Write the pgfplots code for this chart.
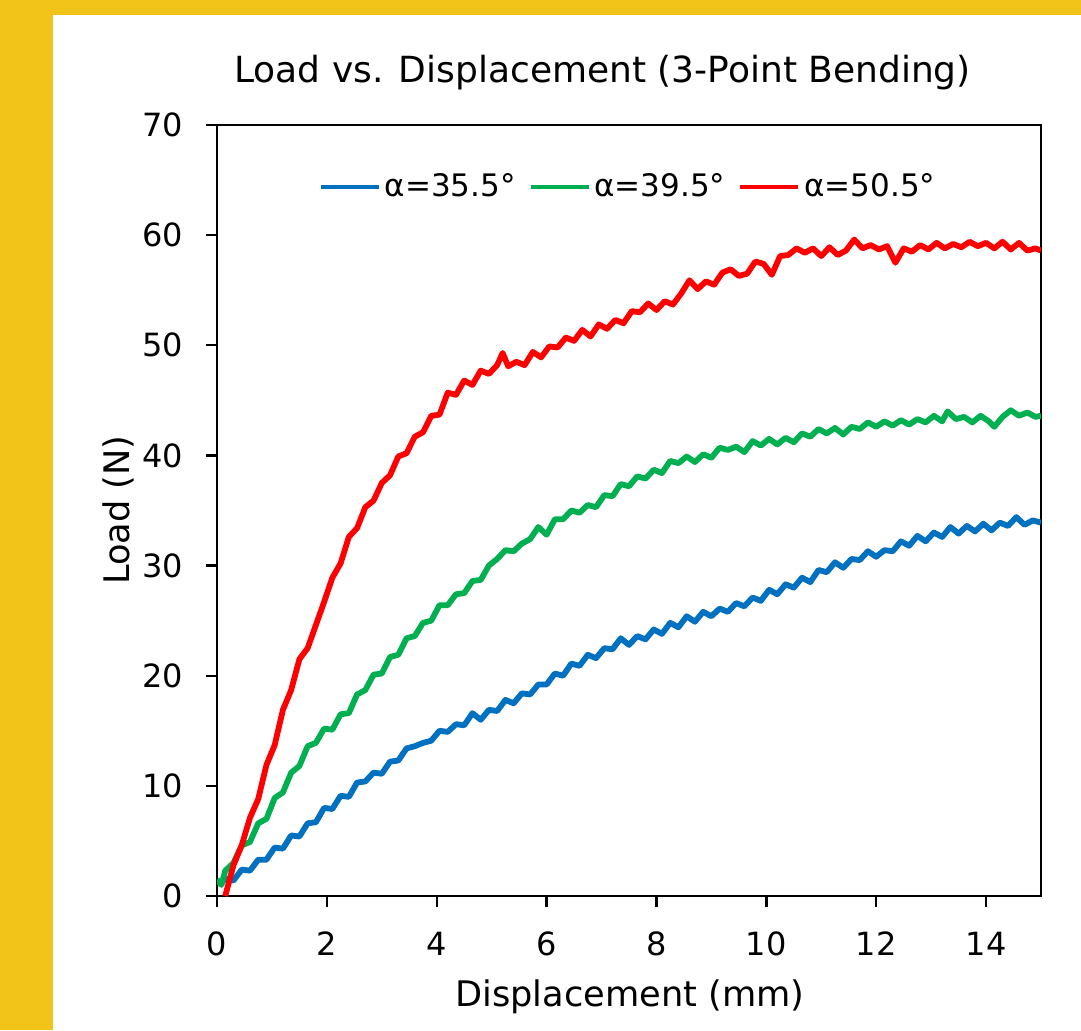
\documentclass[border=0pt]{standalone}
\usepackage{fontspec}
\setmainfont{DejaVu Sans}
\usepackage{pgfplots}
\pgfplotsset{compat=1.18}
\definecolor{cBlue}{RGB}{0,112,192}
\definecolor{cGreen}{RGB}{0,176,80}
\definecolor{cRed}{RGB}{255,0,0}
\definecolor{frameY}{RGB}{242,196,26}

\begin{document}
\begin{tikzpicture}
% page frame: yellow strip left and top, white panel
\path[use as bounding box] (0,0) rectangle (540.5pt,515pt);
\fill[white] (0,0) rectangle (540.5pt,515pt);
\fill[frameY] (0,0) rectangle (26.5pt,515pt);
\fill[frameY] (0,507.5pt) rectangle (540.5pt,515pt);

\begin{axis}[
  at={(108.5pt,67pt)}, anchor=south west,
  scale only axis, width=412pt, height=385.5pt,
  xmin=0, xmax=15, ymin=0, ymax=70,
  xtick={0,2,...,14}, ytick={0,10,...,70},
  xtick pos=bottom, ytick pos=left,
  tick align=outside, major tick length=5.5pt,
  axis line style={line width=1.2pt},
  every tick/.style={black, line width=1.2pt},
  /pgf/number format/assume math mode=true,
  tick label style={font=\fontsize{16}{19}\selectfont},
  yticklabel style={xshift=-8pt},
  xticklabel style={yshift=-9pt},
  legend style={draw=none, fill=none, at={(0.5,0.92)}, anchor=center,
                legend columns=3, font=\fontsize{15.5}{18}\selectfont,
                /tikz/every even column/.append style={column sep=4.5pt}},
  legend image code/.code={\draw[#1,line width=2pt] (0pt,0pt) -- (29pt,0pt);},
  clip=true,
]
\addplot[cBlue, line width=2.9pt, line join=round] coordinates {
(0.05,1.0) (0.15,1.6) (0.3,1.4) (0.45,2.4) (0.6,2.3) (0.75,3.3) (0.9,3.3)
(1.05,4.4) (1.2,4.3) (1.35,5.5) (1.5,5.4) (1.65,6.6) (1.8,6.7) (1.95,8.0)
(2.1,7.9) (2.25,9.1) (2.4,9.0) (2.55,10.3) (2.7,10.4) (2.85,11.2) (3.0,11.1)
(3.15,12.2) (3.3,12.3) (3.45,13.4) (3.6,13.6) (3.75,13.9) (3.9,14.1) (4.05,15.0)
(4.2,14.9) (4.35,15.6) (4.5,15.5) (4.65,16.6) (4.8,16.0) (4.95,16.9) (5.1,16.8)
(5.25,17.8) (5.4,17.5) (5.55,18.4) (5.7,18.3) (5.85,19.2) (6.0,19.2) (6.15,20.2)
(6.3,20.0) (6.45,21.1) (6.6,20.9) (6.75,21.9) (6.9,21.6) (7.05,22.5) (7.2,22.4)
(7.35,23.4) (7.5,22.8) (7.65,23.6) (7.8,23.3) (7.95,24.2) (8.1,23.8) (8.25,24.8)
(8.4,24.4) (8.55,25.4) (8.7,24.9) (8.85,25.8) (9.0,25.4) (9.15,26.1) (9.3,25.8)
(9.45,26.6) (9.6,26.3) (9.75,27.1) (9.9,26.8) (10.05,27.8) (10.2,27.4) (10.35,28.3)
(10.5,28.0) (10.65,28.9) (10.8,28.5) (10.95,29.6) (11.1,29.4) (11.25,30.3) (11.4,29.8)
(11.55,30.6) (11.7,30.5) (11.85,31.3) (12.0,30.8) (12.15,31.4) (12.3,31.3) (12.45,32.2)
(12.6,31.8) (12.75,32.7) (12.9,32.2) (13.05,33.0) (13.2,32.6) (13.35,33.5) (13.5,32.9)
(13.65,33.6) (13.8,33.1) (13.95,33.8) (14.1,33.2) (14.25,33.9) (14.4,33.6) (14.55,34.4)
(14.7,33.7) (14.85,34.1) (15.0,33.9)};
\addlegendentry{α=35.5°}
\addplot[cGreen, line width=2.9pt, line join=round] coordinates {
(0,1.5) (0.08,1.0) (0.15,2.3) (0.3,3.0) (0.45,4.6) (0.6,4.9) (0.75,6.6) (0.9,7.0)
(1.05,8.9) (1.2,9.4) (1.35,11.2) (1.5,11.8) (1.65,13.6) (1.8,13.9) (1.95,15.2)
(2.1,15.1) (2.25,16.5) (2.4,16.6) (2.55,18.3) (2.7,18.7) (2.85,20.1) (3.0,20.2)
(3.15,21.7) (3.3,21.9) (3.45,23.4) (3.6,23.6) (3.75,24.8) (3.9,25.0) (4.05,26.4)
(4.2,26.4) (4.35,27.4) (4.5,27.5) (4.65,28.6) (4.8,28.7) (4.95,30.0) (5.1,30.6)
(5.25,31.4) (5.4,31.3) (5.55,32.0) (5.7,32.4) (5.85,33.5) (6.0,32.8) (6.15,34.2)
(6.3,34.2) (6.45,35.0) (6.6,34.8) (6.75,35.5) (6.9,35.3) (7.05,36.4) (7.2,36.3)
(7.35,37.4) (7.5,37.2) (7.65,38.1) (7.8,37.9) (7.95,38.7) (8.1,38.4) (8.25,39.5)
(8.4,39.3) (8.55,39.9) (8.7,39.4) (8.85,40.1) (9.0,39.8) (9.15,40.7) (9.3,40.5)
(9.45,40.8) (9.6,40.3) (9.75,41.3) (9.9,40.9) (10.05,41.5) (10.2,41.0) (10.35,41.6)
(10.5,41.2) (10.65,42.0) (10.8,41.7) (10.95,42.4) (11.1,42.0) (11.25,42.5) (11.4,41.9)
(11.55,42.6) (11.7,42.4) (11.85,43.0) (12.0,42.6) (12.15,43.1) (12.3,42.7) (12.45,43.2)
(12.6,42.8) (12.75,43.3) (12.9,43.0) (13.05,43.6) (13.2,43.1) (13.3,44.0) (13.45,43.3)
(13.6,43.5) (13.75,43.0) (13.9,43.6) (14.05,43.1) (14.15,42.6) (14.3,43.5) (14.45,44.1)
(14.6,43.6) (14.75,43.9) (14.9,43.5) (15.0,43.6)};
\addlegendentry{α=39.5°}
\addplot[cRed, line width=2.9pt, line join=round] coordinates {
(0.15,0) (0.3,2.8) (0.45,4.6) (0.6,7.1) (0.75,8.8) (0.9,11.9) (1.05,13.7)
(1.2,16.9) (1.35,18.7) (1.5,21.5) (1.65,22.5) (1.8,24.6) (1.95,26.7) (2.1,28.9)
(2.25,30.2) (2.4,32.6) (2.55,33.4) (2.7,35.3) (2.85,35.9) (3.0,37.5) (3.15,38.2)
(3.3,39.9) (3.45,40.2) (3.6,41.7) (3.75,42.1) (3.9,43.6) (4.05,43.7) (4.2,45.7)
(4.35,45.5) (4.5,46.8) (4.65,46.4) (4.8,47.7) (4.95,47.4) (5.1,48.2) (5.2,49.3)
(5.3,48.1) (5.45,48.5) (5.6,48.2) (5.75,49.4) (5.9,48.9) (6.05,49.9) (6.2,49.8)
(6.35,50.7) (6.5,50.4) (6.65,51.4) (6.8,50.8) (6.95,51.9) (7.1,51.5) (7.25,52.3)
(7.4,52.0) (7.55,53.1) (7.7,53.0) (7.85,53.8) (8.0,53.2) (8.15,54.0) (8.3,53.7)
(8.45,54.7) (8.6,55.9) (8.75,55.1) (8.9,55.8) (9.05,55.5) (9.2,56.6) (9.35,56.9)
(9.5,56.3) (9.65,56.5) (9.8,57.6) (9.95,57.4) (10.1,56.4) (10.25,58.1) (10.4,58.2)
(10.55,58.8) (10.7,58.4) (10.85,58.8) (11.0,58.1) (11.15,58.9) (11.3,58.2) (11.45,58.6)
(11.6,59.6) (11.75,58.8) (11.9,59.1) (12.05,58.7) (12.2,59.0) (12.35,57.5) (12.5,58.8)
(12.65,58.5) (12.8,59.1) (12.95,58.7) (13.1,59.3) (13.25,58.8) (13.4,59.2) (13.55,58.9)
(13.7,59.4) (13.85,59.0) (14.0,59.3) (14.15,58.8) (14.3,59.4) (14.45,58.7) (14.6,59.3)
(14.75,58.6) (14.9,58.8) (15.0,58.6)};
\addlegendentry{α=50.5°}
\end{axis}

% title and axis titles
\node[font=\fontsize{18}{22}\selectfont] at (301.25pt,478.5pt) {Load vs. Displacement (3-Point Bending)};
\node[font=\fontsize{17.6}{21}\selectfont] at (315pt,16.5pt) {Displacement (mm)};
\node[font=\fontsize{17.6}{21}\selectfont, rotate=90] at (59pt,260pt) {Load (N)};
\end{tikzpicture}
\end{document}
